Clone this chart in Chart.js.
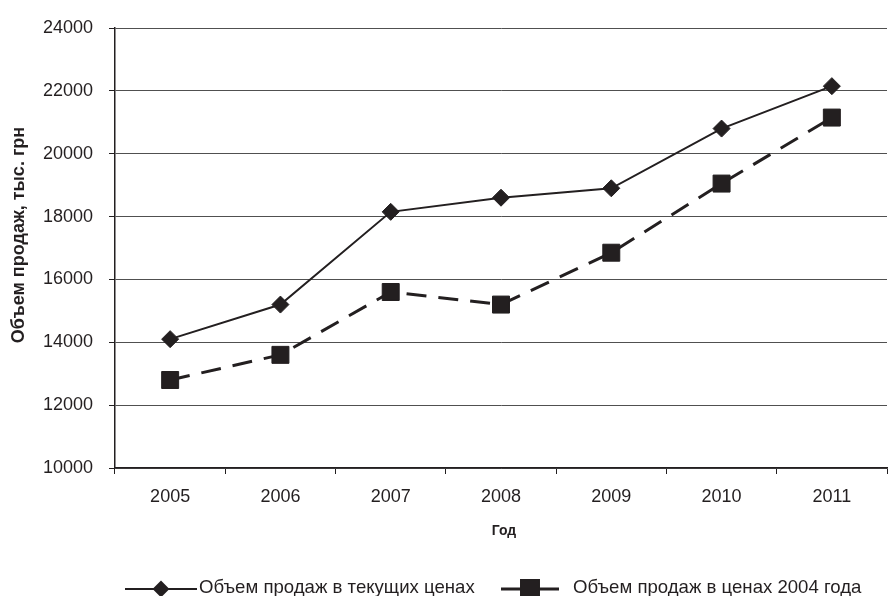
<!DOCTYPE html>
<html lang="ru">
<head>
<meta charset="utf-8">
<title>Объем продаж</title>
<script src="https://cdn.jsdelivr.net/npm/chart.js@4/dist/chart.umd.min.js"></script>
<style>
  html, body { margin: 0; padding: 0; background: #fff; overflow: hidden; }
  #wrap { width: 900px; height: 596px; }
</style>
</head>
<body>
<div id="wrap"><canvas id="chart" width="900" height="596"></canvas></div>
<script>
// Годы и объемы продаж, тыс. грн
const years = ['2005', '2006', '2007', '2008', '2009', '2010', '2011'];
const salesCurrent = [14100, 15200, 18150, 18600, 18900, 20800, 22150];
const salesPrices2004 = [12800, 13600, 15600, 15200, 16850, 19050, 21150];
const seriesNames = ['Объем продаж в текущих ценах', 'Объем продаж в ценах 2004 года'];
const yTicks = [10000, 12000, 14000, 16000, 18000, 20000, 22000, 24000];
const yTitle = 'Объем продаж, тыс. грн';
const xTitle = 'Год';

const INK = '#231f20';
const FONT = '"Liberation Sans", Arial, sans-serif';

// Подписи осей и легенда рисуются поверх графика
const decorations = {
  id: 'decorations',
  afterDraw(chart) {
    const ctx = chart.ctx;
    const ds = chart.data.datasets;
    ctx.save();
    ctx.fillStyle = INK;

    // заголовок оси Y
    ctx.font = 'bold 18px ' + FONT;
    ctx.textAlign = 'center';
    ctx.textBaseline = 'middle';
    ctx.save();
    ctx.translate(19, 235);
    ctx.rotate(-Math.PI / 2);
    ctx.fillText(yTitle, 0, 0);
    ctx.restore();

    // заголовок оси X
    ctx.font = 'bold 14px ' + FONT;
    ctx.fillText(xTitle, 504, 531);

    // легенда
    const ly = 589;
    ctx.font = '18.6px ' + FONT;
    ctx.textAlign = 'left';
    ctx.textBaseline = 'middle';

    ctx.strokeStyle = INK;
    ctx.lineWidth = ds[0].borderWidth;
    ctx.setLineDash([]);
    ctx.beginPath(); ctx.moveTo(125, ly); ctx.lineTo(197, ly); ctx.stroke();
    Chart.helpers.drawPoint(ctx, {pointStyle: ds[0].pointStyle, radius: 7, borderWidth: 1, rotation: 0}, 161, ly);
    ctx.fillStyle = INK;
    ctx.fill();
    ctx.fillText(ds[0].label, 199, ly - 1);

    ctx.lineWidth = ds[1].borderWidth;
    ctx.setLineDash([22, 14]);
    ctx.beginPath(); ctx.moveTo(501, ly); ctx.lineTo(560, ly); ctx.stroke();
    ctx.setLineDash([]);
    Chart.helpers.drawPoint(ctx, {pointStyle: ds[1].pointStyle, radius: 12, borderWidth: 1, rotation: 0}, 530, ly);
    ctx.fill();
    ctx.fillText(ds[1].label, 573, ly - 1);

    ctx.restore();
  }
};

new Chart(document.getElementById('chart'), {
  type: 'line',
  data: {
    labels: years,
    datasets: [
      {
        label: seriesNames[0],
        data: salesCurrent,
        borderColor: INK,
        backgroundColor: INK,
        borderWidth: 2,
        tension: 0,
        pointStyle: 'rectRot',
        pointRadius: 8.5,
        pointHoverRadius: 8.5,
        pointBorderWidth: 1,
        pointBackgroundColor: INK,
        pointBorderColor: INK
      },
      {
        label: seriesNames[1],
        data: salesPrices2004,
        borderColor: INK,
        backgroundColor: INK,
        borderWidth: 3,
        borderDash: [20, 12],
        tension: 0,
        pointStyle: 'rect',
        pointRadius: 12,
        pointHoverRadius: 12,
        pointBorderWidth: 1,
        pointBackgroundColor: INK,
        pointBorderColor: INK
      }
    ]
  },
  options: {
    responsive: false,
    animation: false,
    events: [],
    layout: { padding: { top: 28, right: 2, bottom: 0, left: 0 } },
    plugins: {
      legend: { display: false },
      tooltip: { enabled: false }
    },
    scales: {
      x: {
        type: 'category',
        offset: true,
        afterFit(scale) { scale.height = 128; },
        grid: {
          offset: true,
          drawOnChartArea: false,
          drawTicks: true,
          tickLength: 6,
          tickColor: INK,
          tickWidth: 1
        },
        border: { display: true, color: INK, width: 1.5 },
        ticks: {
          color: INK,
          font: { family: FONT, size: 18 },
          padding: 12,
          maxRotation: 0
        }
      },
      y: {
        min: yTicks[0],
        max: yTicks[yTicks.length - 1],
        afterFit(scale) { scale.width = 115; },
        afterBuildTicks(scale) { scale.ticks = yTicks.map(v => ({ value: v })); },
        grid: {
          color: '#505050',
          lineWidth: 1,
          drawTicks: true,
          tickLength: 6,
          tickColor: INK,
          tickWidth: 1
        },
        border: { display: true, color: INK, width: 1.5 },
        ticks: {
          color: INK,
          font: { family: FONT, size: 18 },
          padding: 16,
          callback: (value) => String(value)
        }
      }
    }
  },
  plugins: [decorations]
});
</script>
</body>
</html>
